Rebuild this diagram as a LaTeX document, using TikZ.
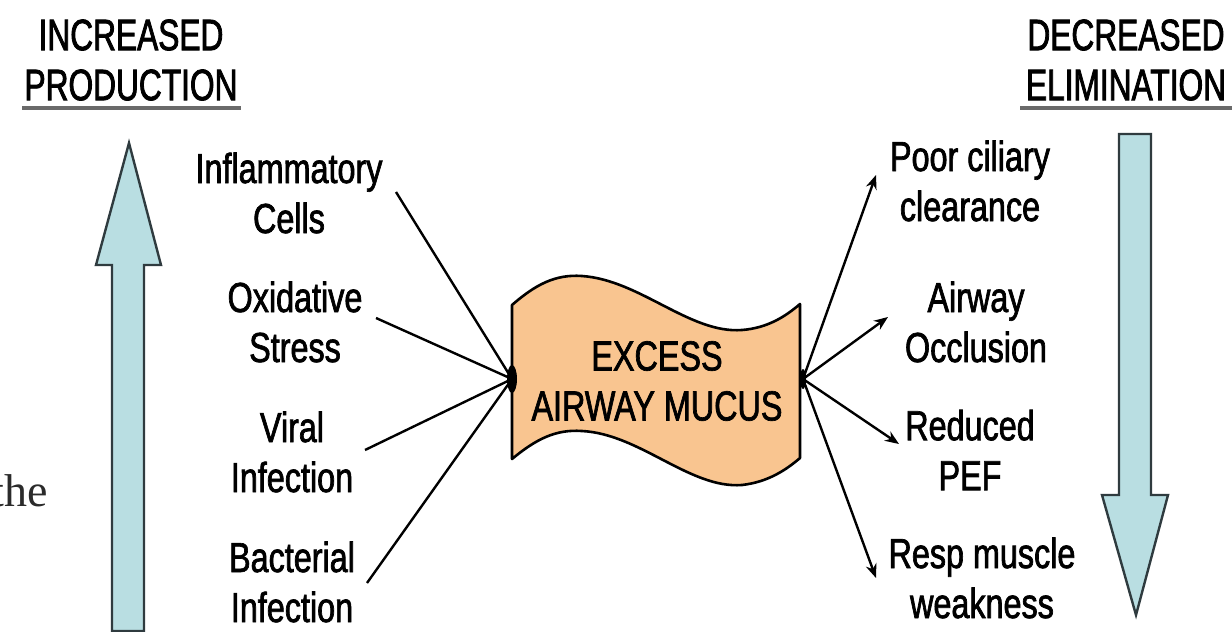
\documentclass[tikz,border=0pt]{standalone}
\usepackage{fontspec}
\setmainfont{Liberation Serif}
\newfontfamily\labfont[FakeStretch=0.77,FakeBold=1.6]{Liberation Sans}
\newfontfamily\headfont[FakeStretch=0.72,FakeBold=1.8]{Liberation Sans}
\usetikzlibrary{arrows.meta}

\definecolor{mucus}{HTML}{F9C590}
\definecolor{bluefill}{HTML}{B9DEE2}
\definecolor{blueline}{HTML}{2F3B3F}
\definecolor{rulegray}{HTML}{6A6A6A}
\definecolor{bodytext}{HTML}{2B2B2B}

\tikzset{
  label/.style={font=\labfont\fontsize{42}{50}\selectfont, align=center, inner sep=0pt},
  heading/.style={font=\headfont\fontsize{44}{50}\selectfont, align=center, inner sep=0pt},
  feed/.style={line width=2.4pt},
  effect/.style={line width=2.4pt, -{Stealth[length=14pt,width=11pt]}},
  blockarrow/.style={fill=bluefill, draw=blueline, line width=2.4pt, line join=miter},
  headrule/.style={draw=rulegray, line width=4pt}
}

\begin{document}
\begin{tikzpicture}[x=1pt,y=-1pt]
\useasboundingbox (0,0) rectangle (1232,632);
\clip (0,0) rectangle (1232,632);

% stray word from the surrounding page
\node[font=\fontsize{46}{50}\selectfont, text=bodytext, anchor=base east, inner sep=0pt] (word) at (48,506) {the};

% headings
\node[heading] (prod) at (131,60) {INCREASED\\PRODUCTION};
\node[heading] (elim) at (1126,60) {DECREASED\\ELIMINATION};
\path[headrule] (22,108) -- (241,108);
\path[headrule] (1020,108) -- (1232,108);

% block arrows
\path[blockarrow] (129,143) -- (161,265) -- (144,265) -- (144,631)
  -- (112,631) -- (112,265) -- (96,265) -- cycle;
\path[blockarrow] (1119,134) -- (1151,134) -- (1151,495) -- (1168,495)
  -- (1136,615) -- (1102,495) -- (1119,495) -- cycle;

% central banner
\path[fill=mucus, draw=black, line width=2.6pt, line join=round]
  (512,305) .. controls (535,285) and (555,274) .. (582,276)
  .. controls (640,280) and (690,334) .. (742,330)
  .. controls (768,328) and (786,316) .. (800,304)
  -- (800,458)
  .. controls (786,470) and (768,482) .. (742,485)
  .. controls (690,489) and (640,434) .. (582,431)
  .. controls (555,429) and (535,440) .. (512,459) -- cycle;
\node[label] (mucus) at (657,381) {EXCESS\\AIRWAY MUCUS};

% junction points
\coordinate (inJ) at (512,379);
\coordinate (outJ) at (803,379);
\fill (inJ) ellipse [x radius=5, y radius=14];
\fill (outJ) ellipse [x radius=3, y radius=10];

% causes
\node[label] (infl) at (289,193) {Inflammatory\\Cells};
\node[label] (oxid) at (295,322) {Oxidative\\Stress};
\node[label] (viral) at (292,452) {Viral\\Infection};
\node[label] (bact) at (292,582) {Bacterial\\Infection};

\coordinate (inflE) at (396,192);
\coordinate (oxidE) at (376,318);
\coordinate (viralE) at (365,450);
\coordinate (bactE) at (367,583);
\draw[feed] (inflE) -- (inJ);
\draw[feed] (oxidE) -- (inJ);
\draw[feed] (viralE) -- (inJ);
\draw[feed] (bactE) -- (inJ);

% consequences
\node[label] (cilia) at (970,181) {Poor ciliary\\clearance};
\node[label] (occl) at (976,322) {Airway\\Occlusion};
\node[label] (pef) at (970,450) {Reduced\\PEF};
\node[label] (resp) at (982,578) {Resp muscle\\weakness};

\coordinate (ciliaW) at (876,175);
\coordinate (occlW) at (888,317);
\coordinate (pefW) at (899,444);
\coordinate (respW) at (876,578);
\draw[effect] (outJ) -- (ciliaW);
\draw[effect] (outJ) -- (occlW);
\draw[effect] (outJ) -- (pefW);
\draw[effect] (outJ) -- (respW);
\end{tikzpicture}
\end{document}
